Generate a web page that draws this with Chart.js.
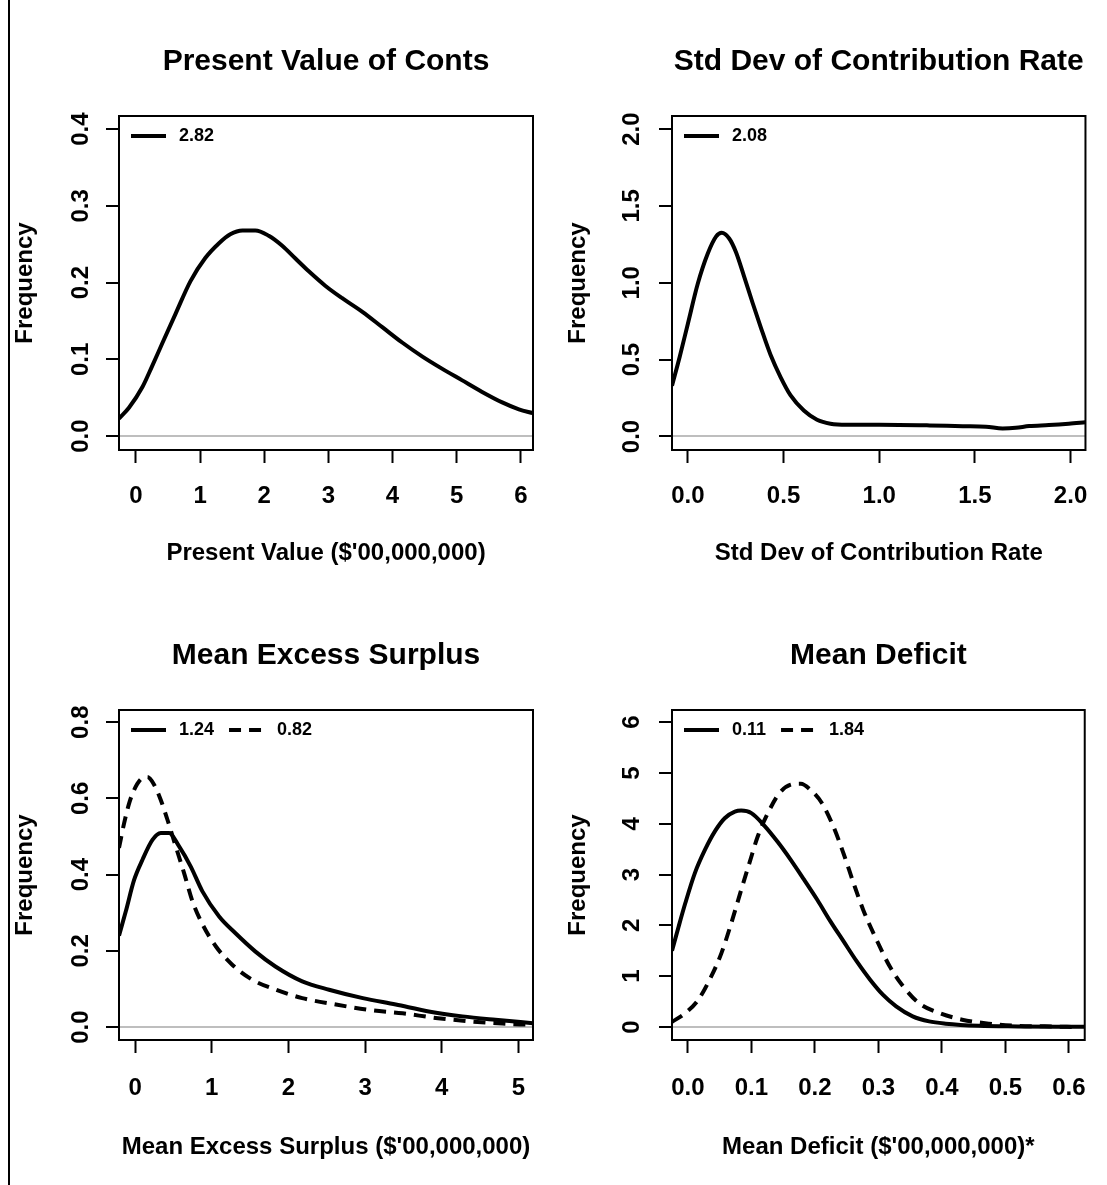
<!DOCTYPE html>
<html><head><meta charset="utf-8">
<script src="https://cdn.jsdelivr.net/npm/chart.js@4.4.1/dist/chart.umd.min.js"></script>
<style>
html,body{margin:0;padding:0;background:#fff;}
#wrap{position:relative;width:1107px;height:1185px;overflow:hidden;background:#fff;}
canvas{position:absolute;}
</style></head><body>
<div id="wrap">
<canvas id="c1" width="553" height="592" style="left:0;top:0"></canvas>
<canvas id="c2" width="554" height="592" style="left:553px;top:0"></canvas>
<canvas id="c3" width="553" height="593" style="left:0;top:592px"></canvas>
<canvas id="c4" width="554" height="593" style="left:553px;top:592px"></canvas>
</div>
<script>
// ---------- Panel 1: Present Value of Conts ----------
const pvX = [-0.265, -0.11, 0.10, 0.25, 0.41, 0.62, 0.85, 1.08, 1.29, 1.47, 1.66, 1.86, 2.07, 2.28, 2.49, 2.69, 2.95, 3.21, 3.53, 3.84, 4.15, 4.46, 4.77, 5.08, 5.39, 5.71, 5.97, 6.19];
const pvY = [0.023, 0.037, 0.064, 0.091, 0.121, 0.160, 0.202, 0.232, 0.251, 0.263, 0.268, 0.268, 0.261, 0.248, 0.231, 0.215, 0.196, 0.180, 0.162, 0.142, 0.122, 0.104, 0.088, 0.073, 0.058, 0.044, 0.035, 0.030];
const pvXTicks = [0, 1, 2, 3, 4, 5, 6];
const pvXLabels = ["0", "1", "2", "3", "4", "5", "6"];
const pvYTicks = [0, 0.1, 0.2, 0.3, 0.4];
const pvYLabels = ["0.0", "0.1", "0.2", "0.3", "0.4"];

// ---------- Panel 2: Std Dev of Contribution Rate ----------
const sdX = [-0.083, -0.043, 0, 0.052, 0.104, 0.147, 0.177, 0.216, 0.251, 0.294, 0.338, 0.381, 0.433, 0.485, 0.537, 0.606, 0.675, 0.745, 0.831, 1.0, 1.264, 1.437, 1.558, 1.645, 1.714, 1.784, 1.887, 1.991, 2.078];
const sdY = [0.33, 0.517, 0.734, 0.995, 1.19, 1.30, 1.325, 1.288, 1.20, 1.04, 0.870, 0.710, 0.528, 0.385, 0.267, 0.169, 0.109, 0.083, 0.076, 0.076, 0.072, 0.067, 0.064, 0.052, 0.056, 0.068, 0.074, 0.083, 0.093];
const sdXTicks = [0, 0.5, 1.0, 1.5, 2.0];
const sdXLabels = ["0.0", "0.5", "1.0", "1.5", "2.0"];
const sdYTicks = [0, 0.5, 1.0, 1.5, 2.0];
const sdYLabels = ["0.0", "0.5", "1.0", "1.5", "2.0"];

// ---------- Panel 3: Mean Excess Surplus ----------
const mesX1 = [-0.21, -0.122, -0.013, 0.096, 0.226, 0.335, 0.443, 0.574, 0.726, 0.878, 1.096, 1.31, 1.57, 1.83, 2.18, 2.53, 2.97, 3.4, 3.83, 4.27, 4.7, 5.19];
const mesY1 = [0.24, 0.303, 0.386, 0.439, 0.491, 0.509, 0.509, 0.474, 0.421, 0.356, 0.29, 0.246, 0.198, 0.159, 0.12, 0.098, 0.076, 0.059, 0.041, 0.028, 0.019, 0.010];
const mesX2 = [-0.21, -0.143, -0.078, -0.013, 0.074, 0.161, 0.248, 0.335, 0.422, 0.53, 0.639, 0.748, 0.878, 1.052, 1.27, 1.53, 1.835, 2.18, 2.62, 3.05, 3.49, 3.92, 4.36, 4.79, 5.14];
const mesY2 = [0.47, 0.535, 0.587, 0.622, 0.65, 0.656, 0.636, 0.596, 0.544, 0.474, 0.404, 0.330, 0.270, 0.212, 0.163, 0.124, 0.098, 0.076, 0.059, 0.045, 0.036, 0.024, 0.015, 0.009, 0.006];
const mesXTicks = [0, 1, 2, 3, 4, 5];
const mesXLabels = ["0", "1", "2", "3", "4", "5"];
const mesYTicks = [0, 0.2, 0.4, 0.6, 0.8];
const mesYLabels = ["0.0", "0.2", "0.4", "0.6", "0.8"];

// ---------- Panel 4: Mean Deficit ----------
const mdX1 = [-0.025, -0.0145, -0.004, 0.011, 0.027, 0.043, 0.058, 0.074, 0.084, 0.1, 0.12, 0.141, 0.162, 0.183, 0.204, 0.224, 0.245, 0.266, 0.287, 0.307, 0.328, 0.354, 0.38, 0.406, 0.458, 0.52, 0.58, 0.625];
const mdY1 = [1.5, 1.98, 2.44, 3.03, 3.49, 3.86, 4.11, 4.24, 4.26, 4.21, 3.97, 3.65, 3.29, 2.90, 2.50, 2.09, 1.69, 1.29, 0.93, 0.636, 0.407, 0.21, 0.11, 0.066, 0.025, 0.012, 0.006, 0.004];
const mdX2 = [-0.025, -0.004, 0.0166, 0.037, 0.053, 0.0685, 0.084, 0.097, 0.11, 0.126, 0.144, 0.162, 0.178, 0.193, 0.211, 0.229, 0.245, 0.261, 0.276, 0.297, 0.318, 0.339, 0.364, 0.396, 0.432, 0.474, 0.515, 0.562, 0.614];
const mdY2 = [0.1, 0.275, 0.54, 1.0, 1.46, 2.05, 2.70, 3.23, 3.75, 4.21, 4.60, 4.77, 4.79, 4.67, 4.41, 3.95, 3.42, 2.83, 2.31, 1.72, 1.19, 0.8, 0.47, 0.275, 0.144, 0.066, 0.026, 0.013, 0.0];
const mdXTicks = [0, 0.1, 0.2, 0.3, 0.4, 0.5, 0.6];
const mdXLabels = ["0.0", "0.1", "0.2", "0.3", "0.4", "0.5", "0.6"];
const mdYTicks = [0, 1, 2, 3, 4, 5, 6];
const mdYLabels = ["0", "1", "2", "3", "4", "5", "6"];

const FONT = "'Liberation Sans', Arial, Helvetica, sans-serif";
Chart.defaults.font.family = FONT;
Chart.defaults.font.weight = 'bold';
Chart.defaults.color = '#000';

const boxPlugin = {
  id: 'rbox',
  afterDatasetsDraw(chart, args, opts) {
    const {ctx, chartArea: a} = chart;
    ctx.save();
    ctx.strokeStyle = '#000';
    ctx.lineWidth = 2;
    ctx.setLineDash([]);
    ctx.strokeRect(a.left, a.top, a.right - a.left, a.bottom - a.top);
    if (opts.edgeLine) {
      ctx.beginPath();
      ctx.moveTo(9, 0);
      ctx.lineTo(9, chart.height);
      ctx.stroke();
    }
    ctx.restore();
  }
};

const legendPlugin = {
  id: 'rlegend',
  afterDatasetsDraw(chart) {
    const {ctx, chartArea: a} = chart;
    let x = a.left + 12;
    const y = a.top + 20;
    ctx.save();
    ctx.font = 'bold 18px ' + FONT;
    ctx.textBaseline = 'middle';
    ctx.textAlign = 'left';
    ctx.fillStyle = '#000';
    chart.data.datasets.forEach(ds => {
      ctx.beginPath();
      ctx.setLineDash(ds.borderDash || []);
      ctx.lineWidth = 4;
      ctx.strokeStyle = '#000';
      ctx.moveTo(x, y);
      ctx.lineTo(x + 35, y);
      ctx.stroke();
      x += 35 + 13;
      ctx.setLineDash([]);
      ctx.fillText(ds.label, x, y);
      x += ctx.measureText(ds.label).width + 15;
    });
    ctx.restore();
  }
};

function makePanel(id, p) {
  const datasets = p.series.map(s => ({
    label: s.label,
    data: s.xs.map((x, i) => ({x: x, y: s.ys[i]})),
    borderColor: '#000',
    borderWidth: 4,
    borderDash: s.dash || [],
    borderCapStyle: 'butt',
    borderJoinStyle: 'round',
    pointRadius: 0,
    fill: false,
    cubicInterpolationMode: 'monotone'
  }));
  const tickFont = {size: 24, weight: 'bold', family: FONT};
  return new Chart(document.getElementById(id), {
    type: 'line',
    data: {datasets},
    options: {
      responsive: false,
      animation: false,
      devicePixelRatio: 1,
      events: [],
      layout: {padding: {left: 0, right: p.padRight, top: 0, bottom: 0}, autoPadding: false},
      plugins: {
        legend: {display: false},
        tooltip: {enabled: false},
        title: {display: true, text: p.title, fullSize: false, color: '#000',
          font: {size: 30, weight: 'bold', family: FONT, lineHeight: 1.2},
          padding: {top: p.titleTop, bottom: p.titleBottom}},
        rbox: {edgeLine: p.edgeLine}
      },
      scales: {
        x: {
          type: 'linear', position: 'bottom', min: p.xMin, max: p.xMax,
          afterBuildTicks: s => { s.ticks = p.xTicks.map(v => ({value: v})); },
          afterFit: s => { s.height = p.xAxisH; },
          ticks: {callback: (v, i) => p.xLabels[i], color: '#000', font: tickFont,
            padding: p.xTickPad, minRotation: 0, maxRotation: 0, autoSkip: false},
          grid: {drawOnChartArea: false, drawTicks: true, tickLength: 13, tickWidth: 2, tickColor: '#000'},
          border: {display: true, color: '#000', width: 2},
          title: {display: true, text: p.xTitle, color: '#000', font: {size: 24, weight: 'bold', family: FONT, lineHeight: 1.2},
            padding: {top: 0, bottom: p.xTitlePad}}
        },
        y: {
          type: 'linear', position: 'left', min: p.yMin, max: p.yMax,
          afterBuildTicks: s => { s.ticks = p.yTicks.map(v => ({value: v})); },
          afterFit: s => { s.width = 119; },
          ticks: {callback: (v, i) => p.yLabels[i], color: '#000', font: tickFont,
            padding: p.yTickPad, minRotation: 90, maxRotation: 90, crossAlign: 'center', autoSkip: false},
          grid: {
            color: c => (c.tick && c.tick.value === 0) ? '#bebebe' : 'rgba(0,0,0,0)',
            lineWidth: 2, drawTicks: true, tickLength: 13, tickWidth: 2, tickColor: '#000'
          },
          border: {display: true, color: '#000', width: 2},
          title: {display: true, text: 'Frequency', color: '#000', font: {size: 24, weight: 'bold', family: FONT, lineHeight: 1.2},
            padding: {top: 10.6, bottom: 0}}
        }
      }
    },
    plugins: [boxPlugin, legendPlugin]
  });
}

makePanel('c1', {
  title: 'Present Value of Conts', xTitle: "Present Value ($'00,000,000)",
  xMin: -0.265, xMax: 6.19, yMin: -0.018, yMax: 0.417,
  xTicks: pvXTicks, xLabels: pvXLabels, yTicks: pvYTicks, yLabels: pvYLabels,
  series: [{label: '2.82', xs: pvX, ys: pvY}],
  padRight: 20, xAxisH: 142, titleTop: 44, titleBottom: 36,
  xTickPad: 19, xTitlePad: 24, yTickPad: 8.3, edgeLine: true
});
makePanel('c2', {
  title: 'Std Dev of Contribution Rate', xTitle: 'Std Dev of Contribution Rate',
  xMin: -0.083, xMax: 2.078, yMin: -0.088, yMax: 2.085,
  xTicks: sdXTicks, xLabels: sdXLabels, yTicks: sdYTicks, yLabels: sdYLabels,
  series: [{label: '2.08', xs: sdX, ys: sdY}],
  padRight: 19, xAxisH: 142, titleTop: 44, titleBottom: 36,
  xTickPad: 19, xTitlePad: 24, yTickPad: 10.3, edgeLine: false
});
makePanel('c3', {
  title: 'Mean Excess Surplus', xTitle: "Mean Excess Surplus ($'00,000,000)",
  xMin: -0.21, xMax: 5.19, yMin: -0.034, yMax: 0.832,
  xTicks: mesXTicks, xLabels: mesXLabels, yTicks: mesYTicks, yLabels: mesYLabels,
  series: [{label: '1.24', xs: mesX1, ys: mesY1}, {label: '0.82', xs: mesX2, ys: mesY2, dash: [12, 8]}],
  padRight: 20, xAxisH: 145, titleTop: 46, titleBottom: 36,
  xTickPad: 20.6, xTitlePad: 23, yTickPad: 8.3, edgeLine: true
});
makePanel('c4', {
  title: 'Mean Deficit', xTitle: "Mean Deficit ($'00,000,000)*",
  xMin: -0.025, xMax: 0.625, yMin: -0.256, yMax: 6.24,
  xTicks: mdXTicks, xLabels: mdXLabels, yTicks: mdYTicks, yLabels: mdYLabels,
  series: [{label: '0.11', xs: mdX1, ys: mdY1}, {label: '1.84', xs: mdX2, ys: mdY2, dash: [12, 8]}],
  padRight: 19, xAxisH: 145, titleTop: 46, titleBottom: 36,
  xTickPad: 20.6, xTitlePad: 23, yTickPad: 20.3, edgeLine: false
});
</script>
</body></html>
